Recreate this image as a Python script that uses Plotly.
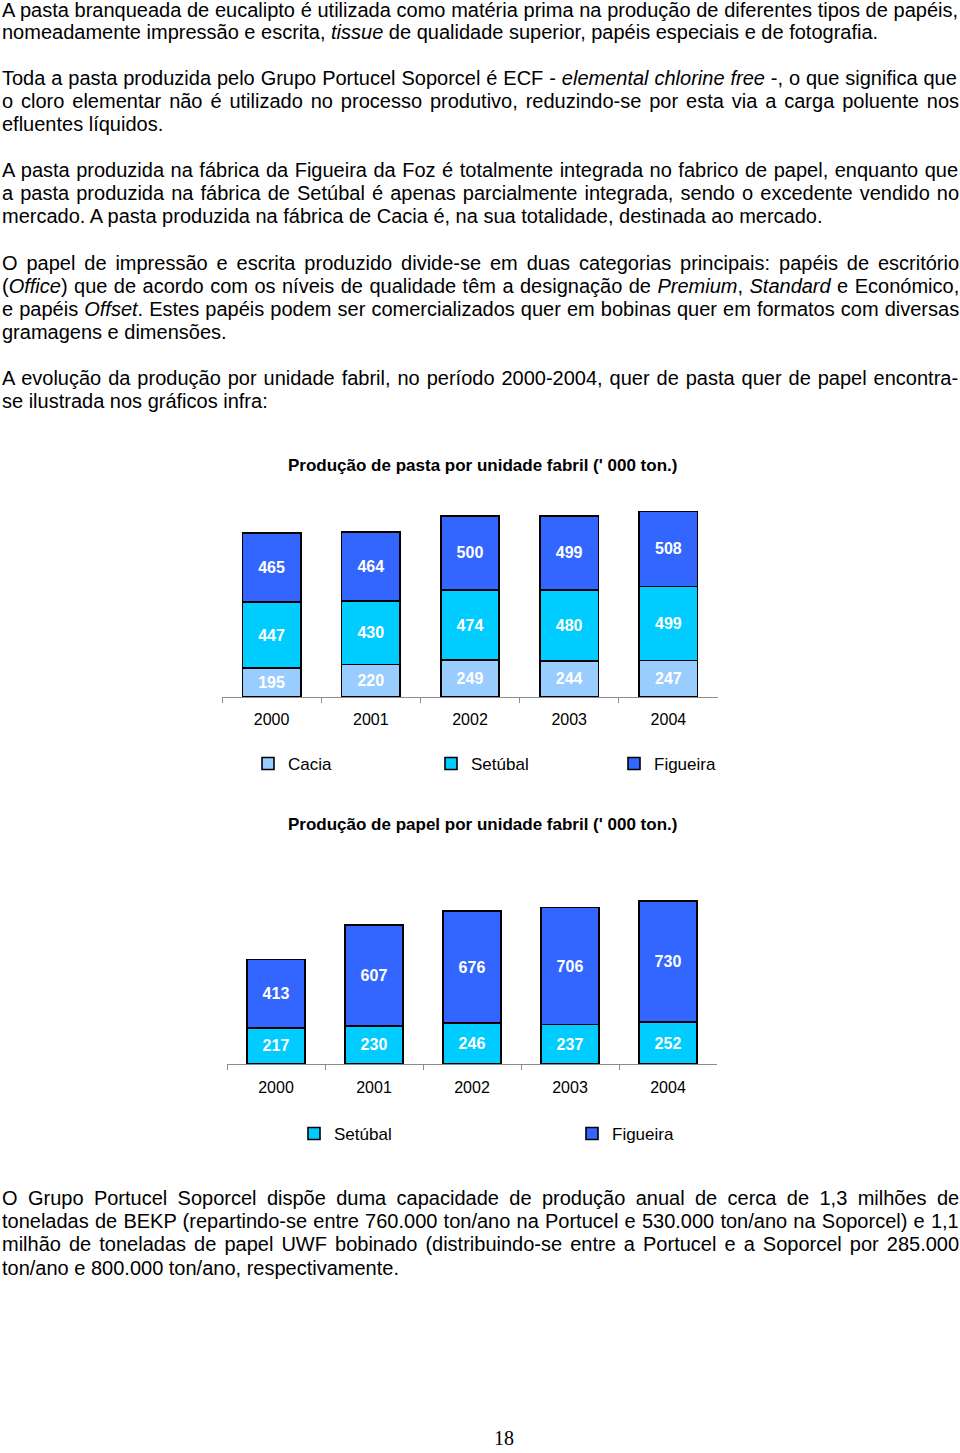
import re
import plotly.graph_objects as go

# ---------------- data ----------------
years = ["2000", "2001", "2002", "2003", "2004"]
pasta_cacia = [195, 220, 249, 244, 247]
pasta_setubal = [447, 430, 474, 480, 499]
pasta_figueira = [465, 464, 500, 499, 508]
papel_setubal = [217, 230, 246, 237, 252]
papel_figueira = [413, 607, 676, 706, 730]

title_pasta = "Produção de pasta por unidade fabril (' 000 ton.)"
title_papel = "Produção de papel por unidade fabril (' 000 ton.)"

C_CACIA = "#99CCFF"
C_SETUBAL = "#00CCFF"
C_FIGUEIRA = "#3366FF"

# ---------------- page text ----------------
lines = [
    (10, "A pasta branqueada de eucalipto é utilizada como matéria prima na produção de diferentes tipos de papéis,", True),
    (32, "nomeadamente impressão e escrita, <i>tissue</i> de qualidade superior, papéis especiais e de fotografia.", False),
    (78, "Toda a pasta produzida pelo Grupo Portucel Soporcel é ECF - <i>elemental chlorine free</i> -, o que significa que", True),
    (101, "o cloro elementar não é utilizado no processo produtivo, reduzindo-se por esta via a carga poluente nos", True),
    (124, "efluentes líquidos.", False),
    (170, "A pasta produzida na fábrica da Figueira da Foz é totalmente integrada no fabrico de papel, enquanto que", True),
    (193, "a pasta produzida na fábrica de Setúbal é apenas parcialmente integrada, sendo o excedente vendido no", True),
    (216, "mercado. A pasta produzida na fábrica de Cacia é, na sua totalidade, destinada ao mercado.", False),
    (263, "O papel de impressão e escrita produzido divide-se em duas categorias principais: papéis de escritório", True),
    (286, "(<i>Office</i>) que de acordo com os níveis de qualidade têm a designação de <i>Premium</i>, <i>Standard</i> e Económico,", True),
    (309, "e papéis <i>Offset</i>. Estes papéis podem ser comercializados quer em bobinas quer em formatos com diversas", True),
    (332, "gramagens e dimensões.", False),
    (378, "A evolução da produção por unidade fabril, no período 2000-2004, quer de pasta quer de papel encontra-", True),
    (401, "se ilustrada nos gráficos infra:", False),
    (1198, "O Grupo Portucel Soporcel dispõe duma capacidade de produção anual de cerca de 1,3 milhões de", True),
    (1221, "toneladas de BEKP (repartindo-se entre 760.000 ton/ano na Portucel e 530.000 ton/ano na Soporcel) e 1,1", True),
    (1244, "milhão de toneladas de papel UWF bobinado (distribuindo-se entre a Portucel e a Soporcel por 285.000", True),
    (1268, "ton/ano e 800.000 ton/ano, respectivamente.", False),
]

W = {' ': 278, 'a': 556, 'b': 556, 'c': 500, 'd': 556, 'e': 556, 'f': 278, 'g': 556, 'h': 556,
     'i': 222, 'j': 222, 'k': 500, 'l': 222, 'm': 833, 'n': 556, 'o': 556, 'p': 556, 'q': 556,
     'r': 333, 's': 500, 't': 278, 'u': 556, 'v': 500, 'w': 722, 'x': 500, 'y': 500, 'z': 500,
     'A': 667, 'B': 667, 'C': 722, 'D': 722, 'E': 667, 'F': 611, 'G': 778, 'H': 722, 'I': 278,
     'J': 500, 'K': 667, 'L': 556, 'M': 833, 'N': 722, 'O': 778, 'P': 667, 'Q': 778, 'R': 722,
     'S': 667, 'T': 611, 'U': 722, 'V': 667, 'W': 944, 'X': 667, 'Y': 667, 'Z': 611,
     ',': 278, '.': 278, '-': 333, '(': 333, ')': 333, ':': 278, ';': 278, '/': 278, "'": 191,
     'á': 556, 'à': 556, 'ã': 556, 'â': 556, 'é': 556, 'ê': 556, 'í': 278, 'ó': 556, 'õ': 556,
     'ô': 556, 'ú': 556, 'ç': 500, 'É': 667, 'Á': 667}
for d in "0123456789":
    W[d] = 556

FS = 20
H = 1453.0
WID = 960.0
TARGET = 957.0


def natural_width(s):
    plain = re.sub(r"<[^>]+>", "", s)
    return sum(W.get(ch, 556) for ch in plain) * FS / 1000.0


annotations = []
for ypx, txt, just in lines:
    t = txt
    if just:
        nsp = re.sub(r"<[^>]+>", "", txt).count(" ")
        ws = (TARGET - natural_width(txt)) / max(nsp, 1)
        t = '<span style="word-spacing:%.2fpx">%s</span>' % (ws, txt)
    annotations.append(dict(
        text=t, x=1 / WID, y=1 - ypx / H, xref="paper", yref="paper",
        xanchor="left", yanchor="middle", showarrow=False, align="left", borderpad=0,
        font=dict(family="Liberation Sans, Arial, sans-serif", size=FS, color="black")))

for ypx, ttl in [(465, title_pasta), (825, title_papel)]:
    annotations.append(dict(
        text="<b>%s</b>" % ttl, x=482 / WID, y=1 - ypx / H, xref="paper", yref="paper",
        xanchor="center", yanchor="middle", showarrow=False,
        font=dict(family="Liberation Sans, Arial, sans-serif", size=17, color="black")))

annotations.append(dict(
    text="18", x=504 / WID, y=1 - 1438 / H, xref="paper", yref="paper",
    xanchor="center", yanchor="middle", showarrow=False,
    font=dict(family="Liberation Serif, Times New Roman, serif", size=20, color="black")))

# ---------------- figure ----------------
fig = go.Figure()

bar_font = dict(family="Liberation Sans, Arial, sans-serif", size=16, color="white", weight="bold")


def add_bar(name, vals, color, xa, ya, leg, show=True):
    fig.add_trace(go.Bar(
        name=name, x=years, y=vals, text=[str(v) for v in vals],
        textposition="inside", insidetextanchor="middle", textangle=0,
        constraintext="none", textfont=bar_font,
        marker=dict(color=color, line=dict(color="black", width=1.6)),
        xaxis=xa, yaxis=ya, legend=leg, showlegend=show, hoverinfo="skip"))


add_bar("Cacia", pasta_cacia, C_CACIA, "x", "y", "legend")
add_bar("Setúbal", pasta_setubal, C_SETUBAL, "x", "y", "legend")
add_bar("Figueira", pasta_figueira, C_FIGUEIRA, "x", "y", "legend")
add_bar("Setúbal", papel_setubal, C_SETUBAL, "x2", "y2", "legend2")
add_bar("Figueira", papel_figueira, C_FIGUEIRA, "x2", "y2", "legend2")

xcommon = dict(type="category", showline=True, linecolor="#8c8c8c", linewidth=1,
               ticks="outside", tickson="boundaries", ticklen=5, tickcolor="#8c8c8c",
               tickfont=dict(family="Liberation Sans, Arial, sans-serif", size=16, color="black"),
               showgrid=False, zeroline=False, fixedrange=True)

fig.update_layout(
    width=960, height=1453,
    margin=dict(l=0, r=0, t=0, b=0),
    paper_bgcolor="white", plot_bgcolor="white",
    barmode="stack", bargap=0.41,
    xaxis=dict(domain=[222 / WID, 718 / WID], anchor="y", ticklabelstandoff=8, **xcommon),
    yaxis=dict(domain=[1 - 697 / H, 1 - (697 - 1400 * 0.148) / H], range=[0, 1400],
               visible=False, fixedrange=True),
    xaxis2=dict(domain=[227 / WID, 717 / WID], anchor="y2", ticklabelstandoff=9, **xcommon),
    yaxis2=dict(domain=[1 - 1064 / H, 1 - (1064 - 1100 * 0.166) / H], range=[0, 1100],
                visible=False, fixedrange=True),
    legend=dict(orientation="h", x=248 / WID, xanchor="left", y=1 - 764 / H, yanchor="middle",
                entrywidth=138, entrywidthmode="pixels", traceorder="normal",
                bgcolor="rgba(0,0,0,0)",
                font=dict(family="Liberation Sans, Arial, sans-serif", size=17, color="black")),
    legend2=dict(orientation="h", x=294 / WID, xanchor="left", y=1 - 1134 / H, yanchor="middle",
                 entrywidth=233, entrywidthmode="pixels", traceorder="normal",
                 bgcolor="rgba(0,0,0,0)",
                 font=dict(family="Liberation Sans, Arial, sans-serif", size=17, color="black")),
    annotations=annotations,
    showlegend=True,
)

fig.write_html("out.html", config={"displayModeBar": False},
               post_script="document.body.style.margin='0';")
